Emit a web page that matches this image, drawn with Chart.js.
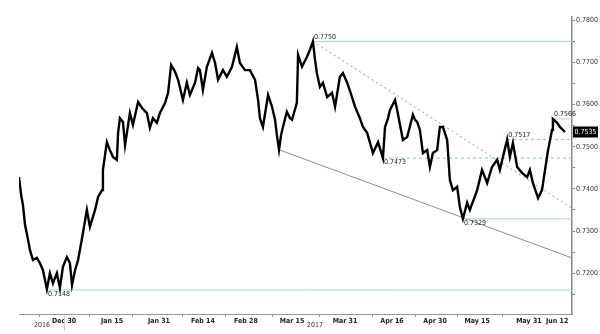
<!DOCTYPE html>
<html>
<head>
<meta charset="utf-8">
<script src="https://cdn.jsdelivr.net/npm/chart.js@4.4.1/dist/chart.umd.min.js"></script>
<style>
  html, body { margin: 0; padding: 0; background: #fff; }
  #wrap { width: 600px; height: 334px; position: relative; }
</style>
</head>
<body>
<div id="wrap"><canvas id="chart"></canvas></div>
<script>
/* AUD/USD-style daily path, Dec 15 2016 (day 0) to mid June 2017 */
const days = [
  0, 0.7, 1.3, 2.0, 3.0, 3.6, 4.6, 5.9, 6.9, 7.9,
  9.2, 10.2, 11.2, 12.5, 13.5, 14.5, 15.8, 16.8, 17.5, 18.5,
  19.5, 20.8, 22.4, 23.4, 25.1, 26.1, 27.4, 27.7, 29.0, 30.0,
  31.0, 32.3, 32.7, 33.3, 34.3, 35.0, 36.6, 37.6, 39.3, 40.6,
  42.2, 43.2, 44.2, 45.5, 46.5, 48.2, 49.2, 50.2, 51.5, 52.5,
  54.1, 55.4, 56.4, 58.1, 59.1, 59.7, 60.7, 62.0, 63.7, 64.7,
  65.7, 67.3, 68.6, 70.3, 71.9, 72.9, 74.6, 76.2, 77.9, 78.9,
  79.5, 80.5, 82.2, 83.5, 84.5, 85.1, 85.8, 86.5, 87.1, 88.4,
  89.4, 90.1, 91.7, 92.1, 93.4, 95.0, 96.0, 97.0, 97.7, 98.3,
  99.3, 100.3, 101.7, 103.3, 104.3, 105.9, 106.9, 108.3, 109.9, 110.9,
  112.5, 113.5, 114.9, 116.8, 118.5, 120.1, 120.8, 121.8, 122.4, 124.1,
  124.8, 126.7, 128.1, 130.0, 130.7, 131.4, 132.3, 133.3, 134.7, 135.6,
  136.6, 138.0, 138.9, 139.9, 141.3, 142.2, 143.2, 144.6, 145.5, 146.5,
  147.9, 148.8, 151.2, 152.8, 154.5, 156.1, 157.8, 158.7, 159.7, 161.1,
  162.0, 163.0, 164.4, 166.0, 167.7, 168.6, 169.6, 171.3, 172.6, 173.6,
  174.6, 175.9, 176.2, 177.6, 178.5, 180.2
];
const rates = [
  0.7428, 0.7386, 0.7362, 0.7314, 0.7279, 0.7255, 0.7231, 0.7236, 0.7224, 0.7207,
  0.7162, 0.7200, 0.7176, 0.7200, 0.7165, 0.7215, 0.7238, 0.7224, 0.7172, 0.7207,
  0.7231, 0.7283, 0.7350, 0.7310, 0.7350, 0.7381, 0.7397, 0.7445, 0.7511, 0.7492,
  0.7476, 0.7469, 0.7533, 0.7568, 0.7559, 0.7504, 0.7580, 0.7552, 0.7606, 0.7592,
  0.7580, 0.7545, 0.7568, 0.7557, 0.7580, 0.7604, 0.7628, 0.7694, 0.7678, 0.7659,
  0.7611, 0.7652, 0.7623, 0.7652, 0.7687, 0.7682, 0.7635, 0.7690, 0.7723, 0.7699,
  0.7659, 0.7682, 0.7666, 0.7690, 0.7737, 0.7699, 0.7682, 0.7682, 0.7659, 0.7611,
  0.7568, 0.7547, 0.7623, 0.7595, 0.7564, 0.7528, 0.7493, 0.7528, 0.7547, 0.7583,
  0.7568, 0.7564, 0.7604, 0.7718, 0.7690, 0.7713, 0.7730, 0.7750, 0.7706, 0.7675,
  0.7642, 0.7652, 0.7618, 0.7628, 0.7595, 0.7666, 0.7675, 0.7652, 0.7618, 0.7595,
  0.7568, 0.7547, 0.7533, 0.7485, 0.7511, 0.7473, 0.7547, 0.7568, 0.7587, 0.7611,
  0.7587, 0.7516, 0.7523, 0.7576, 0.7564, 0.7559, 0.7540, 0.7485, 0.7492, 0.7452,
  0.7485, 0.7492, 0.7547, 0.7547, 0.7516, 0.7421, 0.7397, 0.7405, 0.7357, 0.7329,
  0.7367, 0.7350, 0.7397, 0.7445, 0.7414, 0.7452, 0.7469, 0.7445, 0.7476, 0.7517,
  0.7476, 0.7509, 0.7452, 0.7438, 0.7428, 0.7445, 0.7414, 0.7378, 0.7397, 0.7445,
  0.7492, 0.7540, 0.7566, 0.7557, 0.7547, 0.7535
];

// horizontal support / resistance levels
const levelValues = [0.7750, 0.7160, 0.7473, 0.7517, 0.7329, 0.7566];
const levelStarts = [97.0, 9.2, 120.1, 161.1, 146.5, 176.2];
const levelTexts = ['0.7750', '0.7148', '0.7473', '0.7517', '0.7329', '0.7566'];

// trend lines (start/end day, start/end value)
const trendDays = [[97.0, 182.5], [85.8, 182.5]];
const trendValues = [[0.7750, 0.7354], [0.7493, 0.7236]];

// axis ticks
const xLabelDays = [14.9, 30.7, 46.2, 60.7, 74.9, 90.1, 107.6, 123.1, 137.3, 151.2, 168.3, 177.6];
const xLabels = ['Dec 30', 'Jan 15', 'Jan 31', 'Feb 14', 'Feb 28', 'Mar 15', 'Mar 31', 'Apr 16', 'Apr 30', 'May 15', 'May 31', 'Jun 12'];
const xMinorDays = [6.9, 23.4, 37.6, 53.8, 68.0, 83.5, 99.3, 116.5, 130.7, 144.6, 159.7];
const yearTexts = ['2016', '2017'];
const yearDays = [7.6, 97.7];
const yearBreakDay = 15;
const yTickValues = [0.715, 0.72, 0.725, 0.73, 0.735, 0.74, 0.745, 0.75, 0.755, 0.76, 0.765, 0.77, 0.775, 0.78];
const yLabelValues = [0.72, 0.73, 0.74, 0.75, 0.76, 0.77, 0.78];

const X_MAX = 182.5;
const FONT = "'Liberation Sans Narrow', 'DejaVu Sans Condensed', 'Liberation Sans', sans-serif";
const LEVEL_GREEN = '#a4dccb';
const dashedLevels = [false, false, true, true, false, false];
const labelAbove = [true, false, false, true, false, true];

function sameVal(a, b) { return Math.abs(a - b) < 1e-6; }

const datasets = [{
  data: days.map((d, i) => ({ x: d, y: rates[i] })),
  borderColor: '#000',
  borderWidth: 2.4,
  pointRadius: 0,
  tension: 0,
}];

levelValues.forEach((v, i) => {
  datasets.push({
    data: [{ x: levelStarts[i], y: v }, { x: X_MAX, y: v }],
    borderColor: dashedLevels[i] ? '#86c9b4' : LEVEL_GREEN,
    borderWidth: 1,
    borderDash: dashedLevels[i] ? [3, 3] : [],
    pointRadius: 0,
  });
});

trendDays.forEach((pair, i) => {
  datasets.push({
    data: pair.map((d, k) => ({ x: d, y: trendValues[i][k] })),
    borderColor: i === 0 ? '#9a9a9a' : '#8f8f8f',
    borderWidth: 1,
    borderDash: i === 0 ? [2, 3] : [],
    pointRadius: 0,
  });
});

const overlayPlugin = {
  id: 'overlay',
  afterDatasetsDraw(chart) {
    const { ctx, scales: { x, y } } = chart;
    ctx.save();
    ctx.font = `7px ${FONT}`;
    ctx.fillStyle = '#222';
    ctx.textAlign = 'left';
    levelTexts.forEach((t, i) => {
      const px = x.getPixelForValue(levelStarts[i]) + 1;
      const py = y.getPixelForValue(levelValues[i]);
      ctx.textBaseline = labelAbove[i] ? 'bottom' : 'top';
      ctx.fillText(t, px, labelAbove[i] ? py - 1 : py + 1);
    });

    // year row under the date axis
    ctx.textAlign = 'center';
    ctx.textBaseline = 'middle';
    ctx.fillStyle = '#333';
    yearTexts.forEach((t, i) => {
      ctx.fillText(t, x.getPixelForValue(yearDays[i]), 325);
    });
    ctx.strokeStyle = '#cfcfcf';
    ctx.lineWidth = 1;
    const bx = Math.round(x.getPixelForValue(yearBreakDay)) + 0.5;
    ctx.beginPath();
    ctx.moveTo(bx, 316);
    ctx.lineTo(bx, 331);
    ctx.stroke();

    // last price box on the right axis
    const last = rates[rates.length - 1];
    const ly = y.getPixelForValue(last);
    const left = chart.chartArea.right + 1;
    ctx.fillStyle = '#000';
    ctx.fillRect(left, ly - 5.5, 25, 11);
    ctx.fillStyle = '#fff';
    ctx.textAlign = 'center';
    ctx.fillText(last.toFixed(4), left + 12.5, ly + 0.5);
    ctx.restore();
  }
};

new Chart(document.getElementById('chart'), {
  type: 'line',
  data: { datasets },
  options: {
    responsive: true,
    maintainAspectRatio: false,
    animation: false,
    layout: { padding: { top: 17, left: 19, right: 0, bottom: 0 } },
    plugins: { legend: { display: false }, tooltip: { enabled: false } },
    scales: {
      x: {
        type: 'linear',
        position: 'bottom',
        min: 0,
        max: X_MAX,
        afterBuildTicks: scale => {
          scale.ticks = [...xLabelDays, ...xMinorDays].sort((a, b) => a - b).map(v => ({ value: v }));
        },
        afterFit: scale => { scale.height = 20; },
        ticks: {
          autoSkip: false,
          maxRotation: 0,
          padding: 0,
          color: '#222',
          font: { family: FONT, size: 7, weight: 'bold' },
          callback: v => {
            const i = xLabelDays.findIndex(d => sameVal(d, v));
            return i >= 0 ? xLabels[i] : '';
          },
        },
        grid: {
          drawOnChartArea: false,
          tickLength: 3,
          color: c => (c.tick && xLabelDays.some(d => sameVal(d, c.tick.value))) ? 'rgba(0,0,0,0)' : '#999',
        },
        border: { color: '#999', width: 1 },
      },
      y: {
        type: 'linear',
        position: 'right',
        min: 0.7103,
        max: 0.7808,
        afterBuildTicks: scale => {
          scale.ticks = yTickValues.map(v => ({ value: v }));
        },
        afterFit: scale => { scale.width = 28; },
        ticks: {
          padding: 1,
          color: '#333',
          font: { family: FONT, size: 7 },
          callback: v => yLabelValues.some(l => sameVal(l, v)) ? v.toFixed(4) : '',
        },
        grid: { drawOnChartArea: false, tickLength: 3, color: '#888' },
        border: { color: '#888', width: 1.5 },
      },
    },
  },
  plugins: [overlayPlugin],
});
</script>
</body>
</html>
